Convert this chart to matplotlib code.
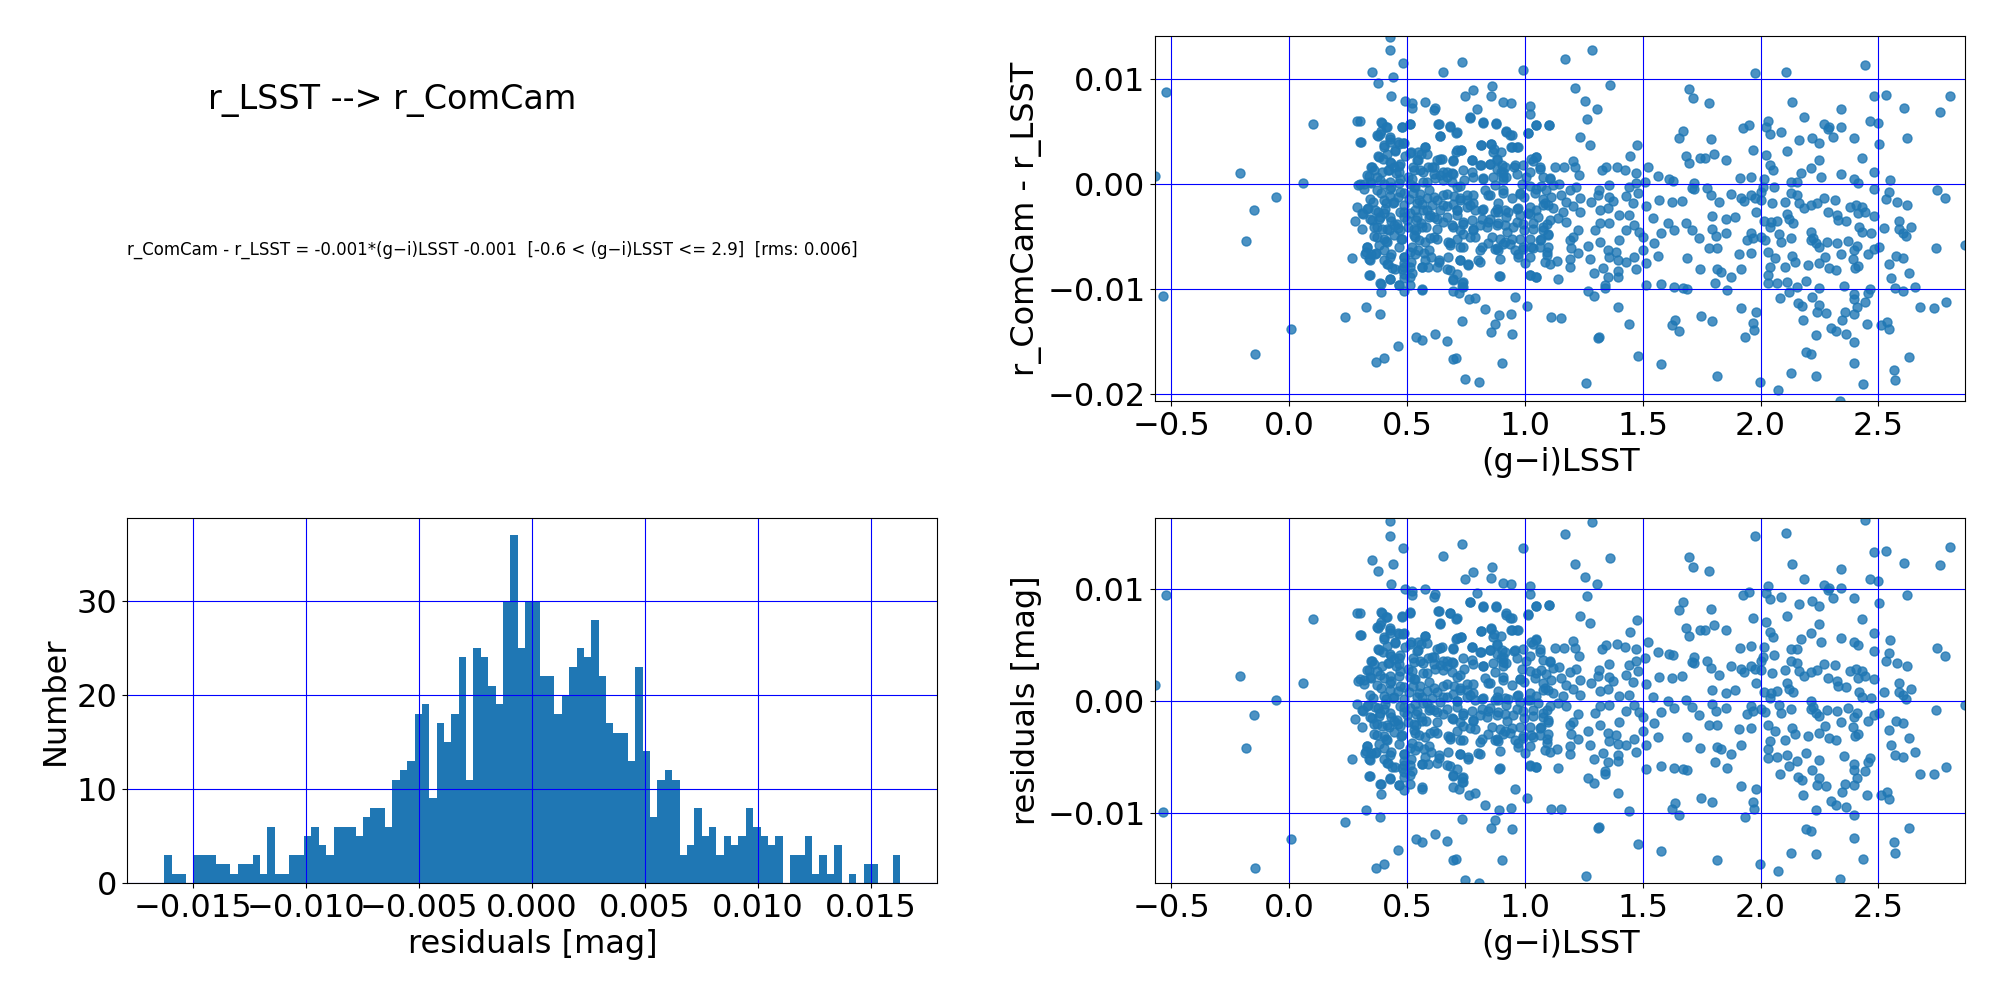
import numpy as np
import matplotlib
matplotlib.use("Agg")
import matplotlib.pyplot as plt

# Text of the summary panel
title_text = "r_LSST --> r_ComCam"
fit_text = ("r_ComCam - r_LSST = -0.001*(g\u2212i)LSST -0.001  "
            "[-0.6 < (g\u2212i)LSST <= 2.9]  [rms: 0.006]")

# Linear fit used for the residuals (printed rounded to 3 decimals)
fit_slope = -0.0014
fit_intercept = -0.00145

# (g-i)LSST colour of each star
gi_lsst = [
    -0.523, -0.569, -0.536, -0.209, -0.149, -0.055, -0.183, 0.060, 0.102, 0.009,
    -0.145, 0.289, 0.302, 0.268, 0.281, 0.238, 0.328, 0.386, 0.370, 0.401,
    0.464, 0.540, 0.563, 0.390, 0.387, 0.340, 0.427, 0.465, 0.489, 0.512,
    0.562, 0.428, 0.428, 0.485, 0.352, 0.443, 0.379, 0.431, 0.491, 0.522,
    0.522, 0.577, 0.390, 0.410, 0.390, 0.372, 0.477, 0.512, 0.428, 0.461,
    0.485, 0.404, 0.451, 0.518, 0.577, 0.560, 0.376, 0.400, 0.433, 0.468,
    0.492, 0.525, 0.546, 0.348, 0.340, 0.372, 0.418, 0.454, 0.504, 0.556,
    0.591, 0.294, 0.316, 0.348, 0.404, 0.433, 0.468, 0.511, 0.535, 0.586,
    0.390, 0.428, 0.461, 0.489, 0.525, 0.553, 0.586, 0.357, 0.411, 0.440,
    0.489, 0.542, 0.333, 0.309, 0.376, 0.404, 0.472, 0.511, 0.567, 0.596,
    0.343, 0.380, 0.433, 0.489, 0.539, 0.560, 0.362, 0.393, 0.426, 0.461,
    0.504, 0.539, 0.582, 0.373, 0.413, 0.447, 0.475, 0.532, 0.553, 0.596,
    0.330, 0.326, 0.348, 0.369, 0.401, 0.433, 0.489, 0.511, 0.546, 0.574,
    0.600, 0.340, 0.404, 0.421, 0.489, 0.518, 0.563, 0.590, 0.435, 0.481,
    0.520, 0.489,
    # 0.6 - 1.75
    1.286, 1.169, 0.992, 0.734, 0.652, 0.859, 0.782, 0.746, 0.856, 1.211,
    1.362, 1.254, 1.308, 1.262, 0.620, 0.908, 0.941, 1.021, 1.021, 0.796,
    0.768, 0.823, 0.878, 0.632, 0.683, 0.714, 0.641, 0.920, 0.944, 1.046,
    1.101, 1.013, 1.235, 1.277, 0.814, 0.856, 0.870, 0.944, 0.966, 0.728,
    0.710, 1.477, 1.448, 0.641, 0.697, 0.775, 0.808, 0.851, 0.882, 0.905,
    0.613, 0.652, 0.690, 0.739, 0.908, 0.953, 0.993, 1.035, 1.046, 1.063,
    1.127, 1.165, 1.204, 1.214, 1.228, 1.328, 1.345, 1.390, 1.425, 1.470,
    1.521, 1.566, 1.610, 1.697, 1.655, 1.669, 1.697, 1.714, 1.742, 1.683,
    1.627, 1.718, 1.718,
    0.620, 0.669, 0.725, 0.782, 0.824, 0.873, 0.908, 0.990, 1.007, 1.024,
    1.070, 1.106, 1.145, 1.190, 1.215, 1.313, 1.355, 1.444, 1.472, 1.508,
    1.479, 1.514, 1.570, 1.625, 1.668, 1.711,
    0.613, 0.655, 0.700, 0.725, 0.754, 0.782, 0.845, 0.887, 0.908, 0.944,
    0.979, 0.997, 1.042, 1.085, 1.113, 1.155, 1.176, 1.232, 1.282, 1.310,
    1.355, 1.430, 1.458, 0.641, 0.669, 0.711, 0.754, 0.817, 0.873, 0.930,
    0.972, 1.014, 1.049, 1.077, 1.120, 1.162, 1.204, 1.232, 1.317, 1.352,
    1.373, 1.401, 1.441, 0.613, 1.542, 1.606, 1.634, 1.683, 1.711, 1.739,
    1.577, 1.549, 1.503, 1.503,
    0.655, 0.697, 0.737, 0.782, 0.810, 0.845, 0.887, 0.923, 0.965, 0.997,
    1.035, 1.077, 1.099, 1.141, 1.176, 1.225, 1.204, 1.296, 1.320, 1.359,
    1.401, 1.430, 1.465, 1.486, 0.613, 0.683, 0.725, 0.768, 0.810, 0.845,
    0.880, 0.915, 0.958, 0.993, 1.035, 1.070, 1.092, 1.190, 1.197, 1.225,
    1.270, 1.317, 1.352, 1.387, 0.634, 0.669, 0.725, 0.761, 0.808, 0.893,
    0.972, 1.000, 1.085, 1.137, 1.193, 1.275, 1.359, 1.394, 1.428, 1.462,
    1.472, 1.514, 1.566, 1.690, 1.745, 1.193, 1.292, 1.331, 1.352, 1.394,
    1.394,
    0.694, 0.732, 0.894, 1.024, 1.046, 1.141, 0.694, 0.722, 0.732, 0.765,
    0.789, 0.958, 1.270, 1.293, 1.339, 1.339, 1.514, 1.579, 1.634, 1.669,
    1.690, 0.831, 0.890, 0.941, 0.873, 0.856, 0.945, 0.734, 0.620, 0.672,
    0.697, 0.708, 0.746, 0.806, 0.903, 1.011, 1.113, 1.155, 1.310, 1.314,
    1.258, 1.397, 1.444, 1.479, 1.579, 1.623, 1.638, 1.655, 1.748,
    # 1.75 - 2.87
    1.975, 2.106, 2.444, 1.780, 2.134, 2.479, 2.534, 2.610, 2.805, 2.761,
    2.340, 2.186, 2.031, 2.021, 2.042, 2.088, 1.924, 1.949, 2.268, 2.285,
    2.291, 2.343, 2.309, 2.466, 2.497, 2.504, 2.398, 2.621, 2.161, 2.216,
    2.246, 1.788, 2.113, 1.968, 1.801, 1.763, 1.855, 2.021, 2.038, 2.051,
    2.246, 2.215, 2.172, 2.258, 2.343, 2.432, 2.482, 2.547, 2.397, 2.415,
    1.911, 1.958, 2.014, 2.127, 2.153, 2.750, 2.784, 2.867, 2.746,
    1.774, 1.791, 1.822, 1.873, 1.915, 1.929, 1.960, 1.977, 2.000, 2.010,
    2.000, 2.059, 2.048, 2.103, 2.127, 2.155, 2.165, 2.186, 2.215, 2.239,
    2.268, 2.285, 2.314, 2.322, 2.328, 2.364, 2.380, 2.405, 2.429, 2.412,
    2.441, 2.418, 2.431, 2.469, 2.479, 2.530, 2.544, 2.579, 2.619, 2.483,
    2.524, 2.585, 2.585, 2.604, 2.617, 2.636, 1.979, 1.890, 1.852, 1.795,
    1.796, 1.813, 1.853, 2.013, 2.045, 2.068, 2.119, 2.137, 2.113, 2.038,
    1.958, 1.944, 1.968, 2.000, 2.017, 2.076, 2.087, 2.127, 2.215, 2.224,
    2.236, 2.215, 2.246, 2.282, 2.322, 2.370, 2.410, 2.398, 1.780, 1.816,
    1.908, 1.960, 2.031, 2.062, 2.038, 2.102, 2.144, 2.133, 2.203, 2.246,
    2.273, 2.292, 2.319, 2.342, 2.391, 2.401, 2.412, 2.455, 2.483, 2.504,
    2.544, 2.575, 2.602, 2.554, 2.630, 2.570, 2.606, 2.653,
    1.816, 1.830, 1.873, 1.915, 1.806, 1.859, 2.031, 2.031, 2.071, 2.113,
    2.119, 2.155, 2.191, 2.246, 2.353, 2.398, 2.455, 2.465, 2.081, 2.158,
    2.175, 2.219, 2.246, 2.240, 2.278, 2.397, 2.408, 2.444, 2.397, 2.359,
    2.346, 2.452, 1.915, 1.982, 1.968, 1.970, 1.936, 1.795, 2.179, 2.299,
    2.318, 2.363, 2.398, 2.233, 2.511, 2.535, 2.546, 2.678, 2.737, 2.788,
    2.191, 2.212, 2.398, 2.631, 2.564, 2.572, 1.814, 1.996, 2.072, 2.127,
    2.233, 2.436, 2.335,
]

# r_ComCam - r_LSST [mag] of each star
d_mag = [
    0.00876, 0.00079, -0.01063, 0.00105, -0.00248, -0.00124, -0.00540, 0.00010, 0.00571, -0.01381,
    -0.01616, 0.00600, 0.00403, -0.00705, -0.00349, -0.01263, -0.01171, -0.01238, -0.01692, -0.01657,
    -0.01540, -0.01454, -0.01486, -0.01029, -0.00943, -0.00867, -0.00905, -0.00962, -0.01013, -0.00962,
    -0.01010, 0.01406, 0.01276, 0.01156, 0.01067, 0.01022, 0.00962, 0.00841, 0.00794, 0.00771,
    0.00730, 0.00781, 0.00594, 0.00546, 0.00508, 0.00467, 0.00543, 0.00575, 0.00432, 0.00400,
    0.00390, 0.00352, 0.00314, 0.00311, 0.00359, 0.00289, 0.00267, 0.00241, 0.00200, 0.00175,
    0.00270, 0.00168, 0.00232, 0.00162, 0.00083, 0.00073, 0.00137, 0.00105, 0.00073, 0.00137,
    0.00162, -0.00006, 0.00000, 0.00010, 0.00003, -0.00022, 0.00010, 0.00003, -0.00022, 0.00025,
    -0.00086, -0.00108, -0.00117, -0.00086, -0.00086, -0.00149, -0.00133, -0.00168, -0.00181, -0.00181,
    -0.00197, -0.00181, -0.00229, -0.00273, -0.00260, -0.00270, -0.00260, -0.00276, -0.00244, -0.00292,
    -0.00333, -0.00330, -0.00346, -0.00308, -0.00340, -0.00371, -0.00403, -0.00425, -0.00435, -0.00419,
    -0.00403, -0.00435, -0.00403, -0.00498, -0.00540, -0.00483, -0.00524, -0.00483, -0.00530, -0.00514,
    -0.00594, -0.00641, -0.00663, -0.00657, -0.00625, -0.00663, -0.00689, -0.00641, -0.00625, -0.00657,
    -0.00689, -0.00714, -0.00721, -0.00762, -0.00752, -0.00737, -0.00790, -0.00790, -0.00800, -0.00810,
    -0.00848, -0.00895,
    # 0.6 - 1.75
    0.01276, 0.01190, 0.01086, 0.01162, 0.01067, 0.00937, 0.00898, 0.00841, 0.00841, 0.00914,
    0.00946, 0.00794, 0.00717, 0.00619, 0.00730, 0.00781, 0.00771, 0.00746, 0.00667, 0.00714,
    0.00638, 0.00594, 0.00581, 0.00571, 0.00549, 0.00498, 0.00460, 0.00511, 0.00467, 0.00562,
    0.00562, 0.00486, 0.00448, 0.00371, 0.00371, 0.00384, 0.00333, 0.00359, 0.00352, 0.00327,
    0.00311, 0.00375, 0.00267, 0.00238, 0.00232, 0.00232, 0.00184, 0.00194, 0.00232, 0.00184,
    0.00162, 0.00121, 0.00111, 0.00137, 0.00121, 0.00168, 0.00184, 0.00225, 0.00257, 0.00168,
    0.00168, 0.00168, 0.00225, 0.00162, 0.00089, 0.00137, 0.00168, 0.00168, 0.00137, 0.00111,
    0.00168, 0.00079, 0.00048, 0.00200, 0.00438, 0.00511, 0.00905, 0.00819, 0.00248, 0.00270,
    0.00035, 0.00010, -0.00048,
    0.00057, 0.00073, -0.00016, 0.00073, 0.00057, -0.00006, 0.00073, 0.00003, 0.00073, -0.00016,
    -0.00016, 0.00057, 0.00003, -0.00054, -0.00029, -0.00054, -0.00006, -0.00022, 0.00010, 0.00025,
    -0.00086, -0.00206, -0.00149, -0.00165, -0.00156, -0.00038,
    -0.00117, -0.00102, -0.00108, -0.00149, -0.00102, -0.00181, -0.00102, -0.00175, -0.00086, -0.00133,
    -0.00086, -0.00117, -0.00086, -0.00181, -0.00117, -0.00102, -0.00165, -0.00133, -0.00165, -0.00102,
    -0.00117, -0.00111, -0.00181, -0.00244, -0.00206, -0.00244, -0.00213, -0.00244, -0.00260, -0.00260,
    -0.00229, -0.00276, -0.00244, -0.00197, -0.00229, -0.00260, -0.00206, -0.00260, -0.00244, -0.00229,
    -0.00156, -0.00292, -0.00292, -0.00308, -0.00324, -0.00371, -0.00435, -0.00371, -0.00435, -0.00514,
    -0.00467, -0.00562, -0.00498, -0.00625,
    -0.00356, -0.00403, -0.00356, -0.00435, -0.00387, -0.00356, -0.00371, -0.00451, -0.00356, -0.00435,
    -0.00371, -0.00403, -0.00473, -0.00324, -0.00356, -0.00435, -0.00498, -0.00435, -0.00371, -0.00371,
    -0.00530, -0.00435, -0.00387, -0.00451, -0.00498, -0.00562, -0.00594, -0.00498, -0.00625, -0.00562,
    -0.00610, -0.00546, -0.00625, -0.00594, -0.00610, -0.00524, -0.00641, -0.00530, -0.00610, -0.00657,
    -0.00587, -0.00546, -0.00625, -0.00641, -0.00721, -0.00810, -0.00721, -0.00768, -0.00737, -0.00714,
    -0.00689, -0.00752, -0.00737, -0.00730, -0.00714, -0.00714, -0.00689, -0.00721, -0.00737, -0.00689,
    -0.00810, -0.00752, -0.00683, -0.00705, -0.00810, -0.00784, -0.00848, -0.00800, -0.00879, -0.00879,
    -0.00822,
    -0.00905, -0.00937, -0.00873, -0.00863, -0.00879, -0.00905, -0.01013, -0.01038, -0.00975, -0.01095,
    -0.01079, -0.01070, -0.01013, -0.01063, -0.00959, -0.00990, -0.00962, -0.00949, -0.00975, -0.00990,
    -0.01000, -0.01190, -0.01248, -0.01235, -0.01330, -0.01406, -0.01425, -0.01302, -0.01425, -0.01492,
    -0.01667, -0.01657, -0.01854, -0.01886, -0.01698, -0.01159, -0.01267, -0.01276, -0.01467, -0.01457,
    -0.01889, -0.01165, -0.01330, -0.01635, -0.01711, -0.01340, -0.01292, -0.01397, -0.01254,
    # 1.75 - 2.87
    0.01057, 0.01067, 0.01133, 0.00771, 0.00784, 0.00841, 0.00848, 0.00724, 0.00841, 0.00689,
    0.00714, 0.00638, 0.00603, 0.00543, 0.00479, 0.00498, 0.00533, 0.00562, 0.00575, 0.00530,
    0.00549, 0.00543, 0.00451, 0.00603, 0.00581, 0.00381, 0.00438, 0.00438, 0.00422, 0.00438,
    0.00390, 0.00429, 0.00317, 0.00327, 0.00286, 0.00248, 0.00232, 0.00276, 0.00184, 0.00137,
    0.00232, 0.00152, 0.00105, 0.00067, 0.00095, 0.00248, 0.00114, 0.00041, 0.00051, 0.00016,
    0.00063, 0.00073, 0.00054, 0.00025, 0.00022, -0.00057, -0.00130, -0.00581, -0.00610,
    -0.00038, -0.00102, -0.00165, -0.00092, -0.00127, -0.00159, -0.00102, -0.00133, -0.00070, -0.00029,
    -0.00149, -0.00022, -0.00181, -0.00165, -0.00086, -0.00102, -0.00181, -0.00229, -0.00197, -0.00181,
    -0.00133, -0.00260, -0.00149, -0.00292, -0.00340, -0.00346, -0.00213, -0.00197, -0.00213, -0.00276,
    -0.00260, -0.00403, -0.00451, -0.00460, -0.00048, -0.00143, -0.00070, -0.00165, -0.00197, -0.00298,
    -0.00419, -0.00349, -0.00429, -0.00460, -0.00489, -0.00403, -0.00260, -0.00308, -0.00333, -0.00298,
    -0.00425, -0.00489, -0.00467, -0.00349, -0.00356, -0.00349, -0.00330, -0.00365, -0.00283, -0.00403,
    -0.00460, -0.00530, -0.00514, -0.00498, -0.00530, -0.00473, -0.00546, -0.00514, -0.00451, -0.00514,
    -0.00562, -0.00530, -0.00594, -0.00549, -0.00562, -0.00537, -0.00587, -0.00625, -0.00610, -0.00610,
    -0.00667, -0.00657, -0.00641, -0.00705, -0.00784, -0.00790, -0.00737, -0.00683, -0.00768, -0.00746,
    -0.00689, -0.00794, -0.00816, -0.00663, -0.00714, -0.00794, -0.00778, -0.00667, -0.00619, -0.00600,
    -0.00762, -0.00683, -0.00705, -0.00895, -0.00848, -0.00990, -0.01013, -0.00975,
    -0.00810, -0.00832, -0.00879, -0.00810, -0.00943, -0.01006, -0.00863, -0.00943, -0.00937, -0.00927,
    -0.01022, -0.00981, -0.00917, -0.00984, -0.00968, -0.01048, -0.01038, -0.01000, -0.01086, -0.01127,
    -0.01159, -0.01070, -0.01149, -0.01213, -0.01229, -0.01095, -0.01171, -0.01117, -0.01235, -0.01219,
    -0.01292, -0.01330, -0.01175, -0.01213, -0.01324, -0.01387, -0.01451, -0.01302, -0.01292, -0.01365,
    -0.01397, -0.01425, -0.01505, -0.01435, -0.01340, -0.01311, -0.01378, -0.01171, -0.01181, -0.01124,
    -0.01600, -0.01616, -0.01705, -0.01648, -0.01768, -0.01863, -0.01825, -0.01886, -0.01959, -0.01800,
    -0.01825, -0.01902, -0.02063,
]

# extra stars read from the crowded core (0.3 < g-i < 1.15)
gi_core = [
    0.300, 0.394, 0.415, 0.387, 0.376, 0.430, 0.479, 0.514, 0.634, 0.683,
    0.708, 0.641, 0.768, 0.821, 0.877, 0.920, 0.939, 1.014, 1.046, 1.101,
    0.615, 0.306,
    0.401, 0.430, 0.465, 0.486, 0.451, 0.415, 0.380, 0.514, 0.549, 0.577,
    0.584, 0.627, 0.648, 0.711, 0.728, 0.775, 0.813, 0.855, 0.866, 0.901,
    0.941, 0.972, 0.880, 1.028, 1.049, 1.063, 0.352, 0.430, 0.472, 0.542,
    0.606, 0.697, 0.813, 0.852, 0.880, 0.915, 0.958,
    0.331, 0.359, 0.394, 0.422, 0.444, 0.465, 0.528, 0.570, 0.613, 0.641,
    0.669, 0.697, 0.775, 0.824, 0.742, 0.866, 0.901, 0.922, 0.965, 1.021,
    1.077, 1.106, 0.303, 0.345, 0.387, 0.430, 0.472, 0.521, 0.570, 0.655,
    0.690, 0.908,
    0.317, 0.373, 0.430, 0.472, 0.528, 0.556, 0.592, 0.627, 0.669, 0.711,
    0.725, 0.753, 0.782, 0.831, 0.852, 0.908, 0.979, 1.049, 1.091, 1.120,
    0.345, 0.401, 0.444, 0.507, 0.563, 0.606, 0.655, 0.697, 0.711, 0.768,
    0.789, 0.824, 0.880, 0.915, 0.965, 1.021, 1.077, 1.099, 0.289, 0.331,
    0.366, 0.408, 0.486, 0.535, 0.584,
    0.314, 0.352, 0.387, 0.430, 0.458, 0.500, 0.542, 0.592, 0.627, 0.669,
    0.711, 0.739, 0.775, 0.817, 0.852, 0.887, 0.922, 0.979, 1.021, 1.056,
    1.092, 0.310, 0.373, 0.415, 0.444, 0.472, 0.528, 0.563, 0.627, 0.690,
    0.725, 0.782, 0.838, 0.880, 0.915, 0.951, 0.993, 1.035, 1.077, 1.106,
    0.359, 0.401, 0.479, 0.535, 0.577, 0.627, 0.676, 0.711, 0.739, 0.789,
    0.859, 0.894, 0.944, 0.979, 1.021, 1.063, 1.099, 0.331, 0.380, 0.415,
    0.465, 0.521, 0.592, 0.683, 0.739, 0.817, 0.873, 0.908, 0.937, 0.993,
    1.028, 1.063, 1.099, 0.324, 0.366, 0.430, 0.486, 0.535, 0.577, 0.634,
    0.676, 0.725, 0.761, 0.803, 0.887, 0.972, 1.021, 1.092, 1.106, 0.345,
    0.415,
    0.451, 0.486, 0.514, 0.563, 0.627, 0.683, 0.711, 0.345, 0.430, 0.486,
    0.514, 0.465, 0.390, 0.563, 0.697, 0.739, 0.737, 0.891, 1.021, 1.049,
]

d_mag_core = [
    0.00600, 0.00584, 0.00546, 0.00483, 0.00457, 0.00451, 0.00546, 0.00578, 0.00571, 0.00552,
    0.00489, 0.00457, 0.00635, 0.00584, 0.00578, 0.00498, 0.00467, 0.00489, 0.00562, 0.00562,
    0.00705, 0.00403,
    0.00371, 0.00403, 0.00387, 0.00394, 0.00324, 0.00292, 0.00260, 0.00298, 0.00308, 0.00356,
    0.00292, 0.00235, 0.00244, 0.00324, 0.00324, 0.00229, 0.00371, 0.00387, 0.00308, 0.00308,
    0.00356, 0.00356, 0.00244, 0.00244, 0.00260, 0.00149, 0.00165, 0.00213, 0.00197, 0.00229,
    0.00165, 0.00222, 0.00181, 0.00197, 0.00149, 0.00165, 0.00181,
    0.00086, 0.00133, 0.00117, 0.00133, 0.00165, 0.00117, 0.00133, 0.00117, 0.00102, 0.00086,
    0.00117, 0.00102, 0.00117, 0.00054, 0.00038, 0.00070, 0.00117, 0.00070, 0.00102, 0.00117,
    0.00070, 0.00054, 0.00006, 0.00022, 0.00038, 0.00022, 0.00054, 0.00054, 0.00022, 0.00038,
    0.00022, 0.00038,
    -0.00041, -0.00057, -0.00041, -0.00073, -0.00025, -0.00089, -0.00057, -0.00152, -0.00089, -0.00025,
    -0.00127, -0.00152, -0.00105, -0.00057, -0.00105, -0.00057, -0.00089, -0.00041, -0.00057, -0.00010,
    -0.00137, -0.00152, -0.00168, -0.00137, -0.00184, -0.00200, -0.00200, -0.00184, -0.00248, -0.00200,
    -0.00248, -0.00232, -0.00232, -0.00248, -0.00232, -0.00216, -0.00137, -0.00200, -0.00216, -0.00232,
    -0.00248, -0.00232, -0.00263, -0.00248, -0.00248,
    -0.00279, -0.00343, -0.00311, -0.00311, -0.00375, -0.00343, -0.00311, -0.00311, -0.00327, -0.00311,
    -0.00295, -0.00375, -0.00343, -0.00327, -0.00327, -0.00263, -0.00311, -0.00295, -0.00279, -0.00311,
    -0.00375, -0.00422, -0.00406, -0.00422, -0.00390, -0.00438, -0.00422, -0.00406, -0.00422, -0.00390,
    -0.00438, -0.00422, -0.00406, -0.00390, -0.00390, -0.00406, -0.00375, -0.00422, -0.00438, -0.00343,
    -0.00495, -0.00517, -0.00517, -0.00502, -0.00549, -0.00517, -0.00549, -0.00517, -0.00470, -0.00502,
    -0.00502, -0.00517, -0.00517, -0.00517, -0.00517, -0.00533, -0.00486, -0.00597, -0.00581, -0.00549,
    -0.00597, -0.00597, -0.00629, -0.00581, -0.00597, -0.00597, -0.00613, -0.00565, -0.00565, -0.00613,
    -0.00597, -0.00597, -0.00597, -0.00660, -0.00660, -0.00692, -0.00692, -0.00660, -0.00724, -0.00740,
    -0.00692, -0.00724, -0.00756, -0.00724, -0.00629, -0.00660, -0.00692, -0.00676, -0.00756, -0.00724,
    -0.00756,
    -0.00803, -0.00787, -0.00787, -0.00787, -0.00787, -0.00819, -0.00851, -0.00867, -0.00898, -0.00851,
    -0.00883, -0.00962, -0.00946, -0.00994, -0.00914, -0.00930, -0.00978, -0.00876, -0.00867, -0.00883,
]

# Histogram of the residuals: 100 bins between these limits
resid_min = -0.01626
resid_max = 0.01630
hist_counts = [
    3, 1, 1, 0, 3, 3, 3, 2, 2, 1,
    2, 2, 3, 1, 6, 1, 1, 3, 3, 5,
    6, 4, 3, 6, 6, 6, 5, 7, 8, 8,
    6, 11, 12, 13, 18, 19, 9, 17, 15, 18,
    24, 11, 25, 24, 21, 19, 30, 37, 25, 30,
    30, 22, 22, 18, 20, 23, 25, 24, 28, 22,
    17, 16, 16, 13, 23, 14, 7, 11, 12, 11,
    3, 4, 8, 5, 6, 3, 5, 4, 5, 8,
    6, 5, 4, 5, 0, 3, 3, 5, 1, 3,
    1, 4, 0, 1, 0, 2, 2, 0, 0, 3,
]

fs = 23
gi = np.array(gi_lsst + gi_core)
dm = np.array(d_mag + d_mag_core)
resid = dm - (fit_slope * gi + fit_intercept)

fig, axs = plt.subplots(2, 2, figsize=(20, 10))
plt.subplots_adjust(left=0.0637, right=0.9825, bottom=0.117, top=0.964,
                    wspace=0.269, hspace=0.32)

# text panel
ax = axs[0, 0]
ax.axis("off")
ax.text(0.1, 0.8, title_text, fontsize=24, transform=ax.transAxes)
ax.text(0.0, 0.4, fit_text, fontsize=12, transform=ax.transAxes)

# colour term
ax = axs[0, 1]
ax.scatter(gi, dm, s=42, alpha=0.8)
ax.set_xlim(-0.568, 2.867)
ax.set_ylim(-0.02064, 0.01412)
ax.set_xlabel("(g\u2212i)LSST", fontsize=fs)
ax.set_ylabel("r_ComCam - r_LSST", fontsize=fs)
ax.tick_params(labelsize=fs)
ax.grid(color="b")

# residual histogram
ax = axs[1, 0]
edges = np.linspace(resid_min, resid_max, 101)
centers = 0.5 * (edges[:-1] + edges[1:])
ax.hist(centers, bins=edges, weights=hist_counts)
ax.set_xlabel("residuals [mag]", fontsize=fs)
ax.set_ylabel("Number", fontsize=fs)
ax.tick_params(labelsize=fs)
ax.grid(color="b")

# residuals vs colour
ax = axs[1, 1]
ax.scatter(gi, resid, s=42, alpha=0.8)
ax.set_xlim(-0.568, 2.867)
ax.set_ylim(-0.0163, 0.0164)
ax.set_xlabel("(g\u2212i)LSST", fontsize=fs)
ax.set_ylabel("residuals [mag]", fontsize=fs)
ax.tick_params(labelsize=fs)
ax.grid(color="b")

plt.savefig("out.png", dpi=100)
